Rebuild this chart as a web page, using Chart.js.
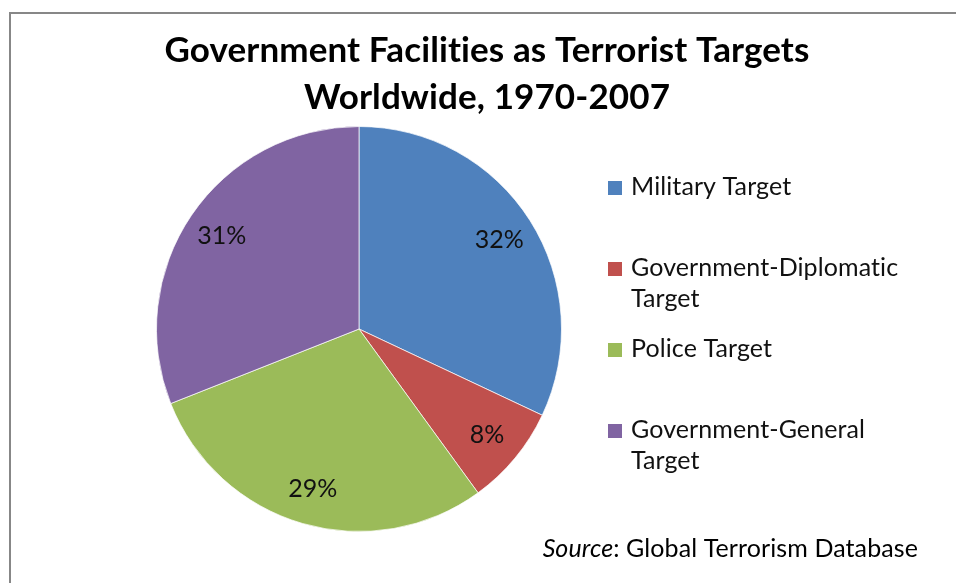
<!DOCTYPE html>
<html>
<head>
<meta charset="utf-8">
<script src="https://cdn.jsdelivr.net/npm/chart.js@4.4.1/dist/chart.umd.min.js"></script>
<style>
  html, body { margin: 0; padding: 0; background: #fff; }
  #wrap { width: 956px; height: 583px; }
</style>
</head>
<body>
<div id="wrap"><canvas id="pieChart" width="956" height="583"></canvas></div>
<script>
// Data
var categories = ['Military Target', 'Government-Diplomatic Target', 'Police Target', 'Government-General Target'];
var shares = [32, 8, 29, 31];
var sliceColors = ['#4F81BD', '#C0504D', '#9BBB59', '#8064A2'];
var titleLines = ['Government Facilities as Terrorist Targets', 'Worldwide, 1970-2007'];
var sourceLabel = 'Source';
var sourceName = 'Global Terrorism Database';

var FONT = "Lato, 'Open Sans', sans-serif";
var TEXT_PX = 25;

// white page + grey frame (its right/bottom edges run off the picture)
var framePlugin = {
    id: 'frame',
    beforeDraw: function(chart) {
        var c = chart.ctx;
        c.save();
        c.fillStyle = '#fff';
        c.fillRect(0, 0, chart.width, chart.height);
        c.strokeStyle = '#878787';
        c.lineWidth = 2;
        c.strokeRect(10, 13, chart.width + 20, chart.height + 20);
        c.restore();
    }
};

// percent labels inside the slices
var sliceLabels = {
    id: 'sliceLabels',
    afterDatasetsDraw: function(chart) {
        var c = chart.ctx;
        var meta = chart.getDatasetMeta(0);
        var data = chart.data.datasets[0].data;
        var total = data.reduce(function(a, b) { return a + b; }, 0);
        c.save();
        c.font = TEXT_PX + 'px ' + FONT;
        c.fillStyle = '#111';
        c.textAlign = 'center';
        c.textBaseline = 'middle';
        meta.data.forEach(function(arc, i) {
            var p = arc.getProps(['x', 'y', 'startAngle', 'endAngle', 'outerRadius'], true);
            var mid = (p.startAngle + p.endAngle) / 2;
            var r = p.outerRadius * 0.82;
            c.fillText(Math.round(data[i] / total * 100) + '%', p.x + Math.cos(mid) * r, p.y + Math.sin(mid) * r);
        });
        c.restore();
    }
};

// title, legend and source note
var textPlugin = {
    id: 'texts',
    afterDraw: function(chart) {
        var c = chart.ctx;
        c.save();
        // tiny spacing keeps Lato from using its "ti"/"fi" ligatures
        c.letterSpacing = '0.1px';
        c.fillStyle = '#000';
        c.textAlign = 'center';
        c.textBaseline = 'alphabetic';
        c.font = 'bold 35px ' + FONT;
        c.fillText(titleLines[0], 487, 62);
        c.fillText(titleLines[1], 487, 109);

        // legend
        c.textAlign = 'left';
        c.font = TEXT_PX + 'px ' + FONT;
        var colors = chart.data.datasets[0].backgroundColor;
        chart.data.labels.forEach(function(lbl, i) {
            var words = lbl.split(' ');
            var lines = [];
            var cur = '';
            words.forEach(function(w) {
                var t = cur ? cur + ' ' + w : w;
                if (cur && c.measureText(t).width > 280) { lines.push(cur); cur = w; }
                else cur = t;
            });
            lines.push(cur);
            var base = 195 + 81 * i;
            c.fillStyle = colors[i];
            c.fillRect(608, base - 14, 14, 14);
            c.fillStyle = '#111';
            lines.forEach(function(ln, k) {
                c.fillText(ln, 631, base + 31 * k);
            });
        });

        // source
        c.font = TEXT_PX + 'px ' + FONT;
        var rest = ': ' + sourceName;
        var wRest = c.measureText(rest).width;
        c.font = 'italic ' + TEXT_PX + 'px ' + FONT;
        var wSrc = c.measureText(sourceLabel).width;
        var x0 = 918 - wRest - wSrc;
        c.fillStyle = '#000';
        c.fillText(sourceLabel, x0, 557);
        c.font = TEXT_PX + 'px ' + FONT;
        c.fillText(rest, x0 + wSrc, 557);
        c.restore();
    }
};

var ctx = document.getElementById('pieChart').getContext('2d');
var pieChart = new Chart(ctx, {
    type: 'pie',
    data: {
        labels: categories,
        datasets: [{
            data: shares,
            backgroundColor: sliceColors,
            borderColor: 'rgba(255,255,255,0.7)',
            borderWidth: 1
        }]
    },
    options: {
        responsive: false,
        animation: false,
        layout: {
            padding: { top: 125, bottom: 50, left: 156, right: 394 }
        },
        plugins: {
            legend: { display: false },
            title: { display: false },
            tooltip: { enabled: false }
        }
    },
    plugins: [framePlugin, sliceLabels, textPlugin]
});
</script>
</body>
</html>
